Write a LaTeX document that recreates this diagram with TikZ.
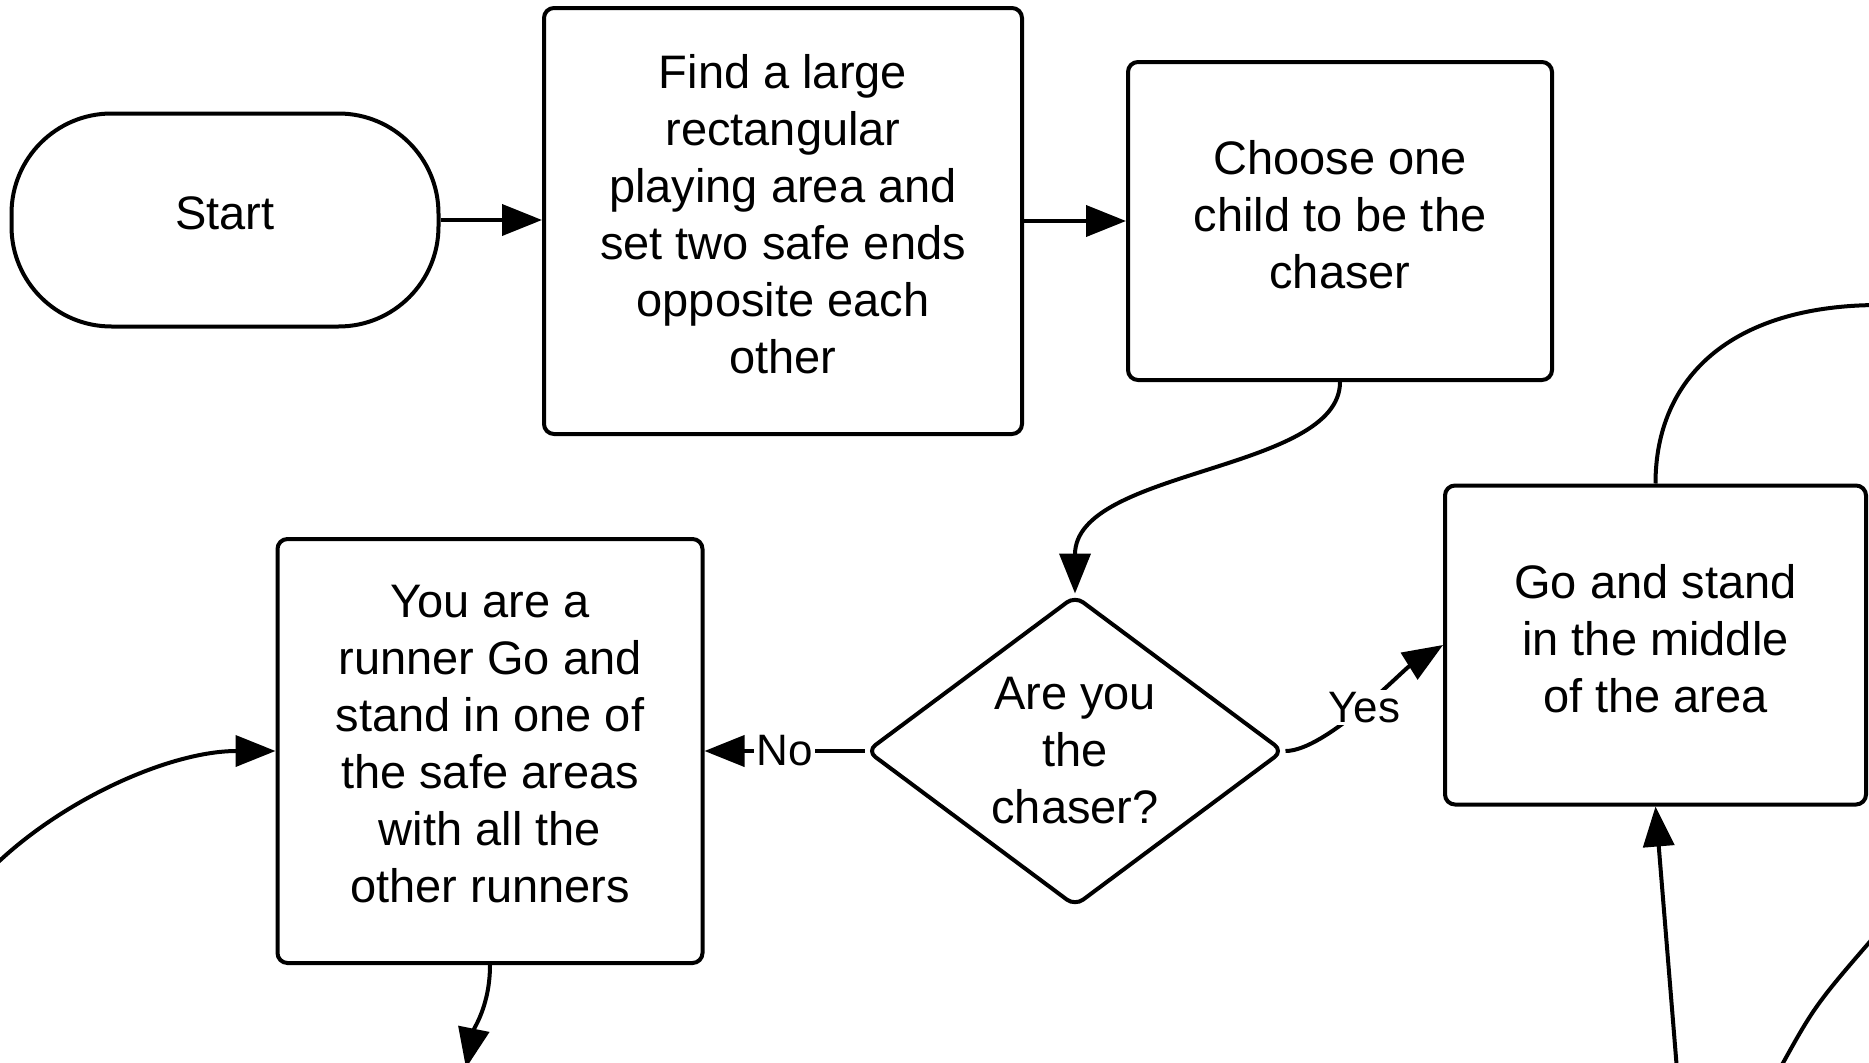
\documentclass[tikz,border=0pt]{standalone}
\usepackage{fontspec}
\setmainfont{Liberation Sans}
\usetikzlibrary{arrows.meta,shapes.geometric}
\begin{document}
\begin{tikzpicture}[x=1pt,y=-1pt,
  every node/.style={font=\fontsize{47}{57}\selectfont, text=black},
  box/.style={draw, line width=4pt, rounded corners=10pt, align=center, inner sep=0pt, text depth=14pt},
  conn/.style={line width=4pt, -{Triangle[length=40pt,width=31pt]}},
  plainline/.style={line width=4pt},
  lbl/.style={fill=white, inner sep=2pt, font=\fontsize{44}{52}\selectfont}]
\useasboundingbox (0,0) rectangle (1869,1063);
\clip (0,0) rectangle (1869,1063);

\node[box, rounded corners=100pt, minimum width=427pt, minimum height=213pt] (start) at (225,220) {Start};
\node[box, minimum width=478pt, minimum height=426pt] (find) at (783,221) {Find a large\\rectangular\\playing area and\\set two safe ends\\opposite each\\other};
\node[box, minimum width=424pt, minimum height=318pt] (choose) at (1340,221) {Choose one\\child to be the\\chaser};
\node[draw, diamond, line width=4pt, rounded corners=10pt, aspect=1.34, minimum width=417pt, minimum height=311pt, inner sep=0pt, align=center] (q) at (1075,751) {Are you\\the\\chaser?};
\node[box, minimum width=425pt, minimum height=424pt] (runner) at (490,751) {You are a\\runner Go and\\stand in one of\\the safe areas\\with all the\\other runners};
\node[box, minimum width=421pt, minimum height=319pt] (middle) at (1655.5,645) {Go and stand\\in the middle\\of the area};

\coordinate (c1) at (-10,870);
\coordinate (c2) at (466,1068);
\coordinate (c3) at (1880,305);
\coordinate (c4) at (1677,1070);
\coordinate (c5) at (1778,1072);
\coordinate (c6) at (1880,930);

\draw[conn] (start.east) -- (start.east -| find.west);
\draw[conn] (find.east) -- (choose.west);
\draw[conn] (choose.south) .. controls +(0,90) and +(0,-125) .. (q.north);
\draw[conn] (q.west) -- node[lbl] {No} (runner.east);
\draw[conn] (q.east) .. controls +(40,0) and +(-40,25) .. node[lbl, pos=0.5] {Yes} (middle.west);
\draw[conn] (c1) .. controls (60,800) and (170,751) .. (runner.west);
\draw[conn] (runner.south) .. controls +(0,40) and +(8,-40) .. (c2);
\draw[plainline] (middle.north) .. controls +(0,-105) and +(-150,0) .. (c3);
\draw[conn] (c4) -- (middle.south);
\draw[plainline] (c5) .. controls (1815,1005) .. (c6);
\end{tikzpicture}
\end{document}
